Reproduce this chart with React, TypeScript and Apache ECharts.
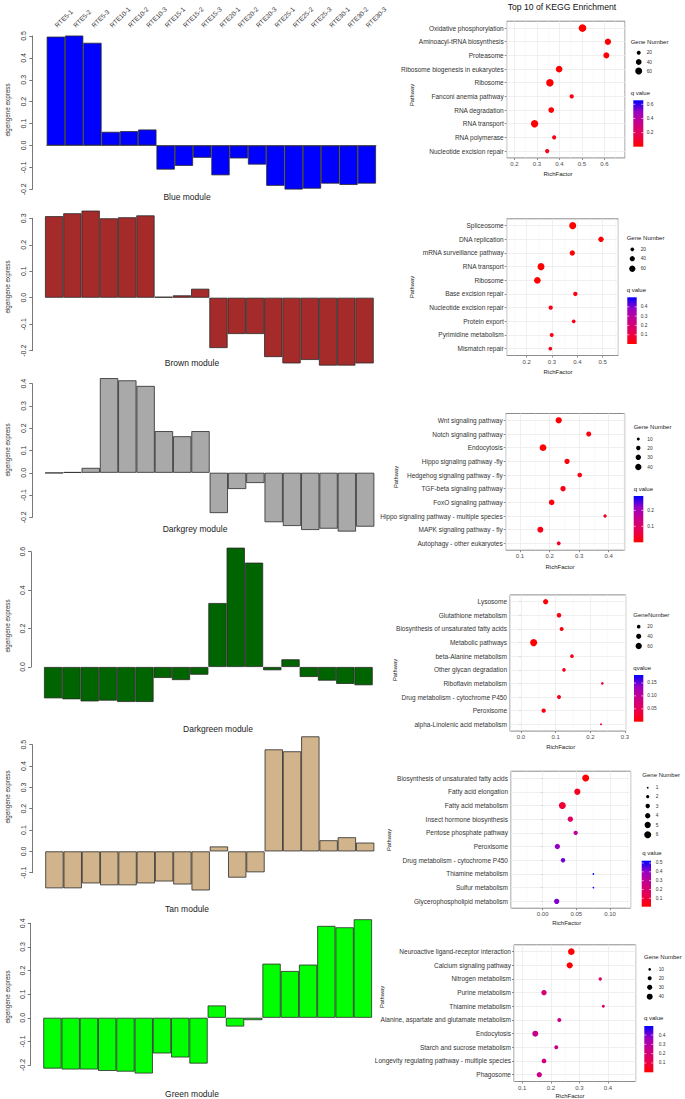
import React, { useEffect, useRef } from "react";
import * as echarts from "echarts";

// ---------------- data ----------------
const sampleLabels = ["RTE5-1","RTE5-2","RTE5-3","RTE10-1","RTE10-2","RTE10-3","RTE15-1","RTE15-2","RTE15-3","RTE20-1","RTE20-2","RTE20-3","RTE25-1","RTE25-2","RTE25-3","RTE30-1","RTE30-2","RTE30-3"];

const blueValues = [0.497,0.502,0.469,0.0625,0.0655,0.073,-0.110,-0.093,-0.056,-0.136,-0.059,-0.087,-0.184,-0.201,-0.197,-0.174,-0.180,-0.174];
const brownValues = [0.308,0.319,0.329,0.300,0.304,0.311,0.004,0.009,0.034,-0.190,-0.137,-0.137,-0.224,-0.248,-0.235,-0.256,-0.256,-0.248];
const darkgreyValues = [-0.0015,0.003,0.022,0.425,0.415,0.390,0.187,0.164,0.187,-0.181,-0.073,-0.046,-0.222,-0.239,-0.257,-0.251,-0.264,-0.242];
const darkgreenValues = [-0.163,-0.168,-0.179,-0.175,-0.182,-0.182,-0.057,-0.068,-0.040,0.333,0.621,0.543,-0.017,0.040,-0.052,-0.071,-0.088,-0.095];
const tanValues = [-0.173,-0.173,-0.150,-0.159,-0.159,-0.150,-0.141,-0.155,-0.183,0.023,-0.123,-0.098,0.478,0.469,0.539,0.052,0.066,0.041];
const greenValues = [-0.215,-0.219,-0.219,-0.225,-0.228,-0.236,-0.151,-0.168,-0.194,0.052,-0.037,-0.010,0.229,0.198,0.225,0.389,0.383,0.417];

const pathways1 = ["Oxidative phosphorylation","Aminoacyl-tRNA biosynthesis","Proteasome","Ribosome biogenesis in eukaryotes","Ribosome","Fanconi anemia pathway","RNA degradation","RNA transport","RNA polymerase","Nucleotide excision repair"];
const rich1 = [0.503,0.616,0.609,0.399,0.358,0.455,0.364,0.290,0.377,0.346];
const genes1 = [72,49,44,55,68,23,40,66,21,23];
const q1 = [0.002,0.004,0.006,0.003,0.001,0.03,0.01,0.002,0.04,0.035];
const sizeBreaks1 = [20,40,60];
const qBreaks1 = [0.2,0.4,0.6];

const pathways2 = ["Spliceosome","DNA replication","mRNA surveillance pathway","RNA transport","Ribosome","Base excision repair","Nucleotide excision repair","Protein export","Pyrimidine metabolism","Mismatch repair"];
const rich2 = [0.3816,0.4933,0.380,0.2565,0.242,0.392,0.2947,0.3855,0.2987,0.2934];
const genes2 = [74,43,43,73,67,28,28,20,24,20];
const q2 = [0.001,0.005,0.004,0.002,0.003,0.02,0.03,0.04,0.03,0.05];
const sizeBreaks2 = [20,40,60];
const qBreaks2 = [0.1,0.2,0.3,0.4];

const pathways3 = ["Wnt signaling pathway","Notch signaling pathway","Endocytosis","Hippo signaling pathway -fly","Hedgehog signaling pathway - fly","TGF-beta signaling pathway","FoxO signaling pathway","Hippo signaling pathway - multiple species","MAPK signaling pathway - fly","Autophagy - other eukaryotes"];
const rich3 = [0.2309,0.3324,0.1778,0.259,0.302,0.2455,0.207,0.3876,0.1688,0.2309];
const genes3 = [40,26,46,29,22,29,32,12,36,17];
const q3 = [0.002,0.01,0.001,0.01,0.02,0.015,0.01,0.03,0.02,0.04];
const sizeBreaks3 = [10,20,30,40];
const qBreaks3 = [0.1,0.2];

const pathways4 = ["Lysosome","Glutathione metabolism","Biosynthesis of unsaturated fatty acids","Metabolic pathways","beta-Alanine metabolism","Other glycan degradation","Riboflavin metabolism","Drug metabolism - cytochrome P450","Peroxisome","alpha-Linolenic acid metabolism"];
const rich4 = [0.0712,0.1096,0.1173,0.0365,0.147,0.124,0.2346,0.1096,0.0654,0.2308];
const genes4 = [42,32,24,75,20,20,10,24,28,6];
const q4 = [0.005,0.01,0.01,0.001,0.01,0.015,0.03,0.015,0.01,0.04];
const sizeBreaks4 = [20,40,60];
const qBreaks4 = [0.05,0.10,0.15];

const pathways5 = ["Biosynthesis of unsaturated fatty acids","Fatty acid elongation","Fatty acid metabolism","Insect hormone biosynthesis","Pentose phosphate pathway","Peroxisome","Drug metabolism - cytochrome P450","Thiamine metabolism","Sulfur metabolism","Glycerophospholipid metabolism"];
const rich5 = [0.0639,0.0515,0.0292,0.0411,0.049,0.0218,0.0302,0.0753,0.0753,0.0208];
const genes5 = [6,5,6,4,3,4,3,1,1,4];
const q5 = [0.005,0.06,0.09,0.17,0.30,0.40,0.43,0.526,0.52,0.42];
const sizeBreaks5 = [1,2,3,4,5,6];
const qBreaks5 = [0.1,0.2,0.3,0.4,0.5];

const pathways6 = ["Neuroactive ligand-receptor interaction","Calcium signaling pathway","Nitrogen metabolism","Purine metabolism","Thiamine metabolism","Alanine, aspartate and glutamate metabolism","Endocytosis","Starch and sucrose metabolism","Longevity regulating pathway - multiple species","Phagosome"];
const rich6 = [0.2716,0.266,0.373,0.176,0.3836,0.2296,0.1455,0.219,0.176,0.1596];
const genes6 = [48,42,14,32,12,20,40,20,26,32];
const q6 = [0.005,0.012,0.16,0.21,0.17,0.23,0.25,0.24,0.23,0.24];
const sizeBreaks6 = [10,20,30,40];
const qBreaks6 = [0.1,0.2,0.3,0.4];

// ---------------- styling / layout ----------------
const FONT = '"Liberation Sans", Arial, Helvetica, sans-serif';
const gradientColors = ["#FF0000", "#E80050", "#C80088", "#9A00C3", "#0000FF"];

const barPanels = [
  { title: "Blue module", color: "#0000FF", values: blueValues, left: 46.7, width: 329.3, top: 36, height: 153.3, axisX: 32.3, min: -0.2, max: 0.5, interval: 0.1, titleX: 187, titleY: 197, nameY: 110, topLabels: true },
  { title: "Brown module", color: "#A52A2A", values: brownValues, left: 45, width: 328.7, top: 218.3, height: 132.4, axisX: 32.3, min: -0.2, max: 0.3, interval: 0.1, titleX: 192, titleY: 362.5, nameY: 287 },
  { title: "Darkgrey module", color: "#A9A9A9", values: darkgreyValues, left: 45, width: 329.3, top: 383.7, height: 133.6, axisX: 32.3, min: -0.2, max: 0.4, interval: 0.1, titleX: 195, titleY: 529, nameY: 450 },
  { title: "Darkgreen module", color: "#006400", values: darkgreenValues, left: 44, width: 328.7, top: 551.7, height: 115.3, axisX: 31, min: 0, max: 0.6, interval: 0.2, titleX: 218, titleY: 729, nameY: 626 },
  { title: "Tan module", color: "#D2B48C", values: tanValues, left: 45.3, width: 329, top: 744.7, height: 128, axisX: 32.3, min: -0.1, max: 0.5, interval: 0.1, titleX: 187, titleY: 909, nameY: 797 },
  { title: "Green module", color: "#00FF00", values: greenValues, left: 43.3, width: 328.7, top: 923.3, height: 141.7, axisX: 30.7, min: -0.2, max: 0.4, interval: 0.1, titleX: 192, titleY: 1094, nameY: 997 },
];

const dotPanels = [
  { cats: pathways1, rich: rich1, genes: genes1, q: q1, sizeBreaks: sizeBreaks1, qBreaks: qBreaks1, qDigits: 1,
    left: 506.7, width: 118.3, top: 21.2, height: 136.7, xMin: 0.166, xMax: 0.692, split: 5, digits: 1,
    qMin: 0, qMax: 0.657, sizeA: -0.1, sizeB: 0.917, gnTitle: "Gene Number", qTitle: "q value",
    legX: 630.7, gnTitleY: 42.3, gnDotX: 638.7, gnDotYs: [52.7, 62, 71], legLabelX: 646.7, qTitleY: 92.7,
    cbX: 633.3, cbY: 100.3, cbW: 10, cbH: 46.4, pathX: 412, pathY: 95, rfX: 558, rfY: 174 },
  { cats: pathways2, rich: rich2, genes: genes2, q: q2, sizeBreaks: sizeBreaks2, qBreaks: qBreaks2, qDigits: 1,
    left: 506.7, width: 111.6, top: 218.8, height: 136.7, xMin: 0.121, xMax: 0.5616, split: 5, digits: 1,
    qMin: 0, qMax: 0.503, sizeA: 0.03, sizeB: 0.813, gnTitle: "Gene Number", qTitle: "q value",
    legX: 626.7, gnTitleY: 237.7, gnDotX: 632.3, gnDotYs: [249.3, 258.7, 268.7], legLabelX: 640.7, qTitleY: 290,
    cbX: 627.3, cbY: 297.3, cbW: 9.4, cbH: 46.7, pathX: 412, pathY: 287, rfX: 558, rfY: 371.5 },
  { cats: pathways3, rich: rich3, genes: genes3, q: q3, sizeBreaks: sizeBreaks3, qBreaks: qBreaks3, qDigits: 1,
    left: 505.7, width: 119, top: 413.5, height: 136.7, xMin: 0.0516, xMax: 0.454, split: 5, digits: 1,
    qMin: 0, qMax: 0.29, sizeA: -0.33, sizeB: 1.053, gnTitle: "Gene Number", qTitle: "q value",
    legX: 633.7, gnTitleY: 427, gnDotX: 638.3, gnDotYs: [439, 448, 457.3, 467], legLabelX: 647.3, qTitleY: 488.7,
    cbX: 633.7, cbY: 496, cbW: 9.6, cbH: 46.3, pathX: 396, pathY: 477, rfX: 560, rfY: 566.5 },
  { cats: pathways4, rich: rich4, genes: genes4, q: q4, sizeBreaks: sizeBreaks4, qBreaks: qBreaks4, qDigits: 2,
    left: 510, width: 115.7, top: 594.9, height: 136.2, xMin: -0.0317, xMax: 0.302, split: 3, digits: 1,
    qMin: 0, qMax: 0.181, sizeA: 0.03, sizeB: 0.813, gnTitle: "GeneNumber", qTitle: "qvalue",
    legX: 633.3, gnTitleY: 615, gnDotX: 638.7, gnDotYs: [626.7, 636.3, 646], legLabelX: 647.3, qTitleY: 667.7,
    cbX: 634, cbY: 675, cbW: 9.3, cbH: 46.7, pathX: 395, pathY: 670, rfX: 560.7, rfY: 746.7 },
  { cats: pathways5, rich: rich5, genes: genes5, q: q5, sizeBreaks: sizeBreaks5, qBreaks: qBreaks5, qDigits: 1,
    left: 511, width: 119.7, top: 771.2, height: 137, xMin: -0.0471, xMax: 0.1308, split: 3, digits: 2,
    qMin: 0.005, qMax: 0.526, sizeA: -2.01, sizeB: 3.68, gnTitle: "Gene Number", qTitle: "q value",
    legX: 642.3, gnTitleY: 775, gnDotX: 647.7, gnDotYs: [787.7, 796.7, 806, 815.7, 825, 834.7], legLabelX: 655.7, qTitleY: 853,
    cbX: 641.7, cbY: 860.7, cbW: 9.3, cbH: 46, pathX: 389, pathY: 840, rfX: 566.7, rfY: 923.3 },
  { cats: pathways6, rich: rich6, genes: genes6, q: q6, sizeBreaks: sizeBreaks6, qBreaks: qBreaks6, qDigits: 1,
    left: 514, width: 121.7, top: 944.8, height: 136.7, xMin: 0.071, xMax: 0.497, split: 5, digits: 1,
    qMin: 0, qMax: 0.497, sizeA: -0.67, sizeB: 1.053, gnTitle: "Gene Number", qTitle: "q value",
    legX: 644, gnTitleY: 956.7, gnDotX: 649.7, gnDotYs: [969.3, 978.3, 987.3, 996.7], legLabelX: 658.7, qTitleY: 1018.3,
    cbX: 644.3, cbY: 1026, cbW: 9, cbH: 46.3, pathX: 382, pathY: 997, rfX: 570, rfY: 1096 },
];

function dotSize(d: any, v: number) {
  return Math.max(1.5, d.sizeA + d.sizeB * Math.sqrt(v));
}

function txt(text: string, x: number, y: number, fontSize: number, opts: any = {}) {
  return {
    type: "text",
    x,
    y,
    rotation: opts.rotation || 0,
    silent: true,
    z: 10,
    style: {
      text,
      fontSize,
      fontFamily: FONT,
      fill: opts.fill || "#222",
      align: opts.align || "center",
      verticalAlign: "middle",
    },
  };
}

function buildOption() {
  const grid: any[] = [];
  const xAxis: any[] = [];
  const yAxis: any[] = [];
  const series: any[] = [];
  const visualMap: any[] = [];
  const graphic: any[] = [];
  const axisColor = "#555";

  barPanels.forEach((p, i) => {
    grid.push({ left: p.left, top: p.top, width: p.width, height: p.height });
    xAxis.push({
      type: "category",
      gridIndex: i,
      data: sampleLabels,
      show: !!p.topLabels,
      position: "top",
      offset: p.top - 29.3,
      axisLine: { lineStyle: { color: axisColor, width: 0.8 } },
      axisTick: { alignWithLabel: true, length: 3, lineStyle: { color: axisColor, width: 0.8 } },
      axisLabel: { interval: 0, rotate: 45, fontSize: 6.5, margin: 3, color: "#333", fontFamily: FONT },
      splitLine: { show: false },
    });
    yAxis.push({
      type: "value",
      gridIndex: i,
      min: p.min,
      max: p.max,
      interval: p.interval,
      offset: p.left - p.axisX,
      axisLine: { show: true, lineStyle: { color: axisColor, width: 0.8 } },
      axisTick: { show: true, length: 3, lineStyle: { color: axisColor, width: 0.8 } },
      axisLabel: { rotate: 90, fontSize: 7, margin: 5, color: "#333", fontFamily: FONT, formatter: (v: number) => v.toFixed(1) },
      splitLine: { show: false },
    });
    series.push({
      type: "bar",
      xAxisIndex: i,
      yAxisIndex: i,
      data: p.values,
      barCategoryGap: "0%",
      clip: false,
      itemStyle: { color: p.color, borderColor: "#2a2a2a", borderWidth: 0.8 },
    });
    graphic.push(txt(p.title, p.titleX, p.titleY, 8.5, { fill: "#222" }));
    graphic.push(txt("eigengene express", 7.3, p.nameY, 6.3, { rotation: Math.PI / 2, fill: "#333" }));
  });

  dotPanels.forEach((d, k) => {
    const gi = barPanels.length + k;
    grid.push({ left: d.left, top: d.top, width: d.width, height: d.height, show: true, borderColor: "#8c8c8c", borderWidth: 1 });
    xAxis.push({
      type: "value",
      gridIndex: gi,
      min: d.xMin,
      max: d.xMax,
      splitNumber: d.split,
      axisLine: { show: false },
      axisTick: { show: true, length: 2, lineStyle: { color: "#444", width: 0.6 } },
      axisLabel: { fontSize: 6, color: "#4D4D4D", margin: 3, fontFamily: FONT, showMinLabel: false, showMaxLabel: false, formatter: (v: number) => v.toFixed(d.digits) },
      splitLine: { show: true, lineStyle: { color: "#EBEBEB", width: 0.8 } },
      minorTick: { show: false, splitNumber: 2 },
      minorSplitLine: { show: true, lineStyle: { color: "#F4F4F4", width: 0.5 } },
    });
    yAxis.push({
      type: "category",
      gridIndex: gi,
      data: d.cats,
      inverse: true,
      axisLine: { show: false },
      axisTick: { show: true, alignWithLabel: true, length: 2, lineStyle: { color: "#444", width: 0.6 } },
      axisLabel: { interval: 0, fontSize: 6.5, color: "#333", margin: 3, fontFamily: FONT },
      splitLine: { show: false },
    });
    series.push({
      type: "scatter",
      xAxisIndex: gi,
      yAxisIndex: gi,
      data: [],
      silent: true,
      z: 1,
      markLine: {
        silent: true,
        z: 1,
        symbol: ["none", "none"],
        label: { show: false },
        emphasis: { disabled: true },
        lineStyle: { color: "#EBEBEB", width: 0.8, type: "solid" },
        data: d.cats.map((c) => ({ yAxis: c })),
      },
    });
    const si = series.length;
    series.push({
      type: "scatter",
      xAxisIndex: gi,
      yAxisIndex: gi,
      z: 6,
      data: d.cats.map((c, i) => [d.rich[i], c, d.genes[i], d.q[i]]),
      symbolSize: (v: any) => dotSize(d, v[2]),
      itemStyle: { opacity: 1 },
    });
    visualMap.push({
      type: "continuous",
      show: false,
      seriesIndex: si,
      dimension: 3,
      min: d.qMin,
      max: d.qMax,
      inRange: { color: gradientColors },
    });

    graphic.push(txt("Pathway", d.pathX, d.pathY, 5.8, { rotation: Math.PI / 2, fill: "#222" }));
    graphic.push(txt("RichFactor", d.rfX, d.rfY, 6, { fill: "#222" }));

    graphic.push(txt(d.gnTitle, d.legX, d.gnTitleY, 6, { align: "left", fill: "#222" }));
    d.sizeBreaks.forEach((b, j) => {
      const r = dotSize(d, b) / 2;
      graphic.push({ type: "circle", silent: true, z: 10, shape: { cx: d.gnDotX, cy: d.gnDotYs[j], r }, style: { fill: "#000" } });
      graphic.push(txt(String(b), d.legLabelX, d.gnDotYs[j], 4.8, { align: "left", fill: "#333" }));
    });

    graphic.push(txt(d.qTitle, d.legX, d.qTitleY, 6, { align: "left", fill: "#222" }));
    graphic.push({
      type: "rect",
      silent: true,
      z: 10,
      shape: { x: d.cbX, y: d.cbY, width: d.cbW, height: d.cbH },
      style: {
        fill: new echarts.graphic.LinearGradient(0, 1, 0, 0, gradientColors.map((c, i) => ({ offset: i / (gradientColors.length - 1), color: c }))),
      },
    });
    d.qBreaks.forEach((b) => {
      const y = d.cbY + d.cbH * (1 - (b - d.qMin) / (d.qMax - d.qMin));
      graphic.push({ type: "line", silent: true, z: 11, shape: { x1: d.cbX, y1: y, x2: d.cbX + 2, y2: y }, style: { stroke: "#fff", lineWidth: 0.6 } });
      graphic.push({ type: "line", silent: true, z: 11, shape: { x1: d.cbX + d.cbW - 2, y1: y, x2: d.cbX + d.cbW, y2: y }, style: { stroke: "#fff", lineWidth: 0.6 } });
      graphic.push(txt(b.toFixed(d.qDigits), d.legLabelX, y, 4.8, { align: "left", fill: "#333" }));
    });
  });

  graphic.push(txt("Top 10 of KEGG Enrichment", 562, 6.5, 8.6, { fill: "#111" }));

  return {
    animation: false,
    backgroundColor: "#ffffff",
    textStyle: { fontFamily: FONT },
    grid,
    xAxis,
    yAxis,
    series,
    visualMap,
    graphic,
  };
}

export default function App() {
  const ref = useRef<HTMLDivElement>(null);
  useEffect(() => {
    document.body.style.margin = "0";
    const chart = echarts.init(ref.current as HTMLDivElement, undefined, { renderer: "svg" });
    chart.setOption(buildOption() as any);
    return () => chart.dispose();
  }, []);
  return <div ref={ref} style={{ width: 685, height: 1099 }} />;
}
